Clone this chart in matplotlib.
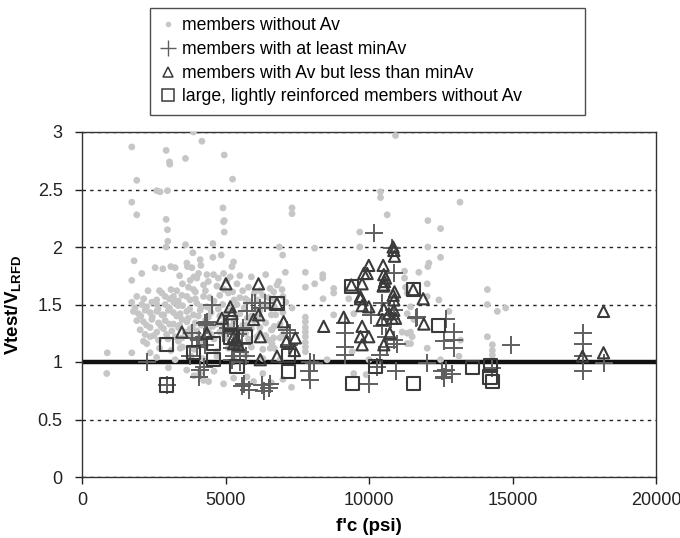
import matplotlib
matplotlib.use('Agg')
import matplotlib.pyplot as plt
from matplotlib.lines import Line2D

plt.rcParams['font.family'] = ['Liberation Sans', 'DejaVu Sans']
plt.rcParams['mathtext.fontset'] = 'custom'
plt.rcParams['mathtext.rm'] = 'Liberation Sans'
plt.rcParams['mathtext.bf'] = 'Liberation Sans:bold'

# members without Av (grey dots)
no_av_fc = [1734, 3885, 4177, 2932, 3047, 3060, 3605, 4956, 1908, 5246, 2606, 2722, 2978, 1734, 1908,
            2932, 2978, 2990, 2932, 4911, 4932, 4956, 4956, 3605, 3863, 4561, 4561, 4851, 1815, 2083,
            1734, 2548, 2816, 3096, 3245, 3653, 3676, 3828, 4118, 4142, 4060, 4583, 4932, 5224, 5281,
            5165, 5050,
            10924, 10400, 10400, 7318, 7318, 10633, 12051, 12494, 9678, 9678, 6875, 6991, 8107, 12051,
            12494, 12051, 7085, 7783, 8388, 8388, 8107, 7783, 8770, 8770, 6851, 6794, 6677, 6968, 11238,
            11238, 11737, 12028, 11273, 11332, 9294, 8400, 7318, 12028, 12435, 13171, 12086, 14124, 14124,
            14473, 14763, 12784, 14124, 14299, 14299, 14299, 13192, 13135, 8770, 9469, 11447, 11332, 11563,
            11447, 11505, 11332, 11155, 9411, 8539, 9469, 7783, 7783, 7783, 7783, 7783, 7783, 7783, 7783,
            10000, 9900, 11332, 11447, 12028, 12494, 6620, 6677, 6620, 6561,
            3770, 4003, 4235, 3711, 3885, 4400, 4700, 5400, 5600, 5800, 6000, 3500, 3300, 2300,
            2781, 2897, 3187, 3480, 3653, 1908, 4235, 4800, 5100, 5500, 6300, 6700, 7000,
            1734, 2083, 2432, 2606, 3770, 4003, 4351, 2900, 3200, 3500, 4600, 4900, 5400, 5800, 6300,
            6700, 7100,
            1792, 1966, 2199, 2374, 2606, 2781, 3013, 3187, 3420, 3653, 3885, 4118, 4500, 4800, 5100,
            5500, 5900, 6200, 6600, 7000,
            1908, 2141, 2432, 2665, 2897, 3187, 3480, 3653, 3944, 4300, 4700, 5000, 5300, 5700, 6000,
            6400, 6900,
            2025, 2374, 2606, 2839, 3130, 3362, 3595, 3770, 4003, 4400, 4800, 5100, 5500, 5900, 6200,
            6600,
            2141, 2374, 2665, 3362, 3478, 3000, 3800, 4200, 4600, 5000, 5400, 5800, 6100, 6500, 6900,
            2257, 2700, 3100, 3500, 3900, 4300, 4700, 5100, 5500, 5900, 6300, 6700,
            880, 1734, 2374, 3420, 3245, 3013, 2600, 3800, 4200, 4700, 5300, 5700, 6300, 6900,
            862, 3650, 3900, 4100, 4235, 4409, 4600, 4932, 5282, 5748, 5979, 6300, 6600, 7000, 7300,
            1850, 2250, 2650, 3050, 3350, 3750, 4150, 4450, 4750, 5250, 5650, 6050, 6500,
            2050, 2450, 2850, 3300, 3700, 4050, 4400, 4950, 5350, 5750, 6150, 6750,
            2250, 2750, 3050, 3400, 3850, 4150, 4550, 4900, 5200, 5600, 6200, 6700,
            2200, 2500, 2950, 3250, 3700, 4100, 4500, 4950, 5300, 5700, 6400, 7000,
            2150, 2600, 3050, 3350, 3950, 4450, 5300, 5700, 6100, 6500,
            2700, 3100, 3950, 4300, 4950, 5250, 6200, 6550,
            3400, 3900, 4350, 4750, 5500, 5900, 6400]
no_av_v = [2.87, 3.00, 2.92, 2.84, 2.74, 2.72, 2.77, 2.80, 2.58, 2.59, 2.49, 2.48, 2.49, 2.39, 2.28,
           2.24, 2.15, 2.05, 2.00, 2.34, 2.22, 2.23, 2.13, 2.02, 1.95, 2.03, 1.91, 1.93, 1.88, 1.77,
           1.71, 1.82, 1.81, 1.83, 1.82, 1.86, 1.83, 1.82, 1.89, 1.84, 1.77, 1.76, 1.77, 1.83, 1.87,
           1.74, 1.71,
           2.97, 2.48, 2.43, 2.34, 2.29, 2.28, 2.23, 2.16, 2.13, 2.00, 2.00, 1.93, 1.99, 2.00,
           1.91, 1.83, 1.78, 1.78, 1.76, 1.73, 1.68, 1.65, 1.64, 1.60, 1.70, 1.67, 1.61, 1.63, 1.79,
           1.73, 1.78, 1.68, 1.65, 1.60, 1.55, 1.55, 1.47, 1.57, 1.54, 2.39, 1.86, 1.63, 1.50,
           1.44, 1.47, 1.44, 1.22, 1.15, 1.10, 1.06, 1.19, 1.05, 1.41, 1.42, 1.48, 1.42, 1.37,
           1.26, 1.22, 1.16, 1.26, 1.09, 1.02, 0.90, 1.39, 1.35, 1.30, 1.26, 1.22, 1.17, 1.13, 1.09,
           1.02, 0.89, 1.25, 1.16, 1.12, 1.02, 1.28, 1.21, 1.16, 1.12,
           1.71, 1.73, 1.67, 1.65, 1.63, 1.70, 1.66, 1.68, 1.62, 1.65, 1.60, 1.68, 1.62, 1.62,
           1.60, 1.57, 1.57, 1.58, 1.57, 1.57, 1.57, 1.58, 1.60, 1.56, 1.58, 1.55, 1.57,
           1.52, 1.50, 1.52, 1.50, 1.54, 1.51, 1.48, 1.50, 1.52, 1.49, 1.53, 1.50, 1.50, 1.53, 1.50,
           1.48, 1.52,
           1.44, 1.42, 1.45, 1.43, 1.44, 1.41, 1.45, 1.43, 1.42, 1.44, 1.41, 1.45, 1.43, 1.40, 1.44,
           1.42, 1.40, 1.45, 1.41, 1.43,
           1.36, 1.35, 1.37, 1.34, 1.36, 1.33, 1.37, 1.35, 1.34, 1.36, 1.33, 1.37, 1.35, 1.32, 1.36,
           1.34, 1.33,
           1.28, 1.30, 1.26, 1.29, 1.27, 1.30, 1.26, 1.29, 1.27, 1.28, 1.26, 1.30, 1.27, 1.29, 1.25,
           1.28,
           1.18, 1.22, 1.19, 1.18, 1.21, 1.20, 1.22, 1.18, 1.20, 1.21, 1.17, 1.20, 1.22, 1.19, 1.21,
           1.16, 1.12, 1.10, 1.13, 1.11, 1.14, 1.09, 1.12, 1.10, 1.13, 1.11, 1.12,
           1.08, 1.08, 1.08, 1.12, 1.02, 0.95, 1.04, 1.05, 1.03, 1.05, 1.04, 1.06, 1.03, 1.02,
           0.90, 0.93, 0.88, 0.90, 0.84, 0.83, 0.92, 0.81, 0.86, 0.87, 0.83, 0.90, 0.82, 0.85, 0.78,
           1.47, 1.48, 1.46, 1.47, 1.49, 1.46, 1.48, 1.47, 1.46, 1.48, 1.47, 1.46, 1.48,
           1.40, 1.39, 1.41, 1.40, 1.38, 1.40, 1.39, 1.41, 1.40, 1.38, 1.39, 1.41,
           1.32, 1.31, 1.33, 1.32, 1.30, 1.32, 1.31, 1.33, 1.31, 1.32, 1.30, 1.31,
           1.24, 1.23, 1.24, 1.22, 1.25, 1.23, 1.24, 1.24, 1.23, 1.25, 1.23, 1.24,
           1.55, 1.54, 1.55, 1.53, 1.55, 1.56, 1.54, 1.55, 1.54, 1.56,
           1.62, 1.63, 1.61, 1.62, 1.63, 1.61, 1.62, 1.64,
           1.75, 1.74, 1.76, 1.73, 1.75, 1.74, 1.76]

# members with at least minAv (crosses)
min_av_fc = [2270, 2955, 3828, 4351, 4060, 4118, 4060, 5572, 5805, 4526, 5923, 6038, 6387, 4293, 4293,
             4293, 5224, 5282, 5224, 5573, 5514, 7143, 7200, 5631, 6271, 6561, 4235, 7899, 7957, 5748,
             6212, 7259, 7957, 6503, 6329, 10168, 10807, 10865, 10458, 10086, 9179, 9179, 9179, 9179,
             10458, 10575, 10633, 10865, 10982, 11679, 10400, 8072, 12005, 10924, 9992, 10284, 12551,
             12610, 12610, 11621, 12668, 12958, 12958, 12958, 14937, 17440, 17440, 17440, 17440, 18172,
             12668, 12900, 12610, 14299, 5300, 5450, 5600, 5500, 5700, 4351, 4235, 3828, 4003, 3770,
             10750, 10865, 4900, 5100]
min_av_v = [1.00, 0.80, 1.25, 1.32, 1.19, 0.93, 0.87, 0.79, 0.76, 1.50, 1.51, 1.51, 1.51, 1.34, 1.22,
            1.15, 1.12, 1.05, 1.02, 1.16, 1.09, 1.28, 1.15, 0.81, 0.80, 0.81, 0.96, 0.92, 1.00, 1.44,
            1.47, 1.25, 0.84, 0.77, 0.75, 2.12, 1.99, 1.77, 1.51, 1.41, 1.34, 1.25, 1.13, 1.06,
            1.31, 1.22, 1.13, 1.19, 1.16, 1.39, 1.06, 0.99, 0.99, 0.92, 0.81, 0.96, 0.92,
            0.86, 1.18, 1.38, 1.37, 1.26, 1.19, 1.12, 1.15, 1.25, 1.16, 1.05, 0.92, 0.99,
            0.93, 0.90, 0.87, 0.95, 1.28, 1.24, 1.30, 1.00, 1.05, 1.35, 1.22, 1.21, 1.13, 1.05,
            1.37, 1.45, 1.25, 1.30]

# members with Av but less than minAv (triangles)
low_av_fc = [3480, 4351, 4874, 5224, 5015, 6150, 6794, 5165, 5979, 6154, 7025, 5282, 5398, 5282, 5456,
             6212, 7120, 7434, 7399, 6794, 6212, 9992, 9935, 9818, 10493, 10841, 10865, 10888, 10516,
             10575, 10516, 9760, 9702, 9388, 11540, 10888, 11888, 9992, 9760, 9702, 9119, 8421, 10516,
             10691, 10865, 10458, 10807, 10924, 11911, 9760, 9702, 9992, 9760, 10726, 10516, 10865,
             10841, 10540, 10493, 18172, 17440, 18172]
low_av_v = [1.26, 1.25, 1.38, 1.42, 1.68, 1.68, 1.51, 1.48, 1.37, 1.41, 1.35, 1.22, 1.19, 1.16, 1.15,
            1.22, 1.18, 1.21, 1.10, 1.05, 1.02, 1.84, 1.77, 1.77, 1.84, 2.00, 1.97, 1.92, 1.76,
            1.73, 1.67, 1.68, 1.55, 1.67, 1.63, 1.61, 1.55, 1.48, 1.49, 1.57, 1.39, 1.31, 1.46,
            1.42, 1.45, 1.37, 1.38, 1.38, 1.33, 1.31, 1.22, 1.22, 1.15, 1.25, 1.15, 1.54,
            1.58, 1.70, 1.66, 1.44, 1.05, 1.08]

# large, lightly reinforced members without Av (squares)
large_fc = [2955, 2955, 3885, 4583, 4583, 5165, 5398, 5165, 5689, 6794, 7200, 7200, 9388, 11540, 9411,
            11540, 12435, 10226, 13599, 14240, 14217, 14299]
large_v = [1.15, 0.80, 1.08, 1.16, 1.02, 1.34, 0.96, 1.21, 1.22, 1.51, 1.06, 0.92, 1.66, 1.63, 0.81,
           0.81, 1.32, 0.96, 0.95, 0.97, 0.87, 0.83]

x_ticks = [0, 5000, 10000, 15000, 20000]
y_ticks = [0, 0.5, 1, 1.5, 2, 2.5, 3]
y_tick_labels = ['0', '0.5', '1', '1.5', '2', '2.5', '3']

grey = '#c6c6c6'
dark = '#5f5f5f'
edge = '#3a3a3a'

fig = plt.figure(figsize=(6.8, 5.38), dpi=100)
ax = fig.add_axes([82 / 680, 1 - 477 / 538, 574 / 680, 345 / 538])

ax.scatter(no_av_fc, no_av_v, s=24, color=grey, edgecolors='none', zorder=3)
ax.plot([0, 20000], [1, 1], color='#111111', lw=3.2, zorder=2.5, solid_capstyle='butt')
ax.scatter(min_av_fc, min_av_v, s=175, marker='+', color=dark, linewidths=1.4, zorder=4)
ax.scatter(low_av_fc, low_av_v, s=65, marker='^', facecolors='none', edgecolors=edge,
           linewidths=1.5, zorder=5)
ax.scatter(large_fc, large_v, s=90, marker='s', facecolors='none', edgecolors=edge,
           linewidths=1.5, zorder=6)

ax.set_xlim(0, 20000)
ax.set_ylim(0, 3)
ax.set_xticks(x_ticks)
ax.set_xticklabels([str(t) for t in x_ticks])
ax.set_yticks(y_ticks)
ax.set_yticklabels(y_tick_labels)
ax.yaxis.grid(True, color='#222222', lw=1.0, linestyle=(0, (2.5, 3)))
ax.set_axisbelow(True)
ax.tick_params(direction='out', length=5, width=1, labelsize=13, colors='#222222')
ax.tick_params(axis='x', pad=6)
ax.tick_params(axis='y', pad=9)
for sp in ax.spines.values():
    sp.set_color('#333333')
    sp.set_linewidth(1.0)

ax.set_xlabel("f'c (psi)", fontsize=13.5, fontweight='bold', labelpad=6)
ax.set_ylabel(r'Vtest/V$_{\mathbf{LRFD}}$', fontsize=13.5, fontweight='bold', labelpad=10)

handles = [
    Line2D([], [], ls='none', marker='o', ms=4, color=grey, mec='none'),
    Line2D([], [], ls='none', marker='+', ms=11, color=dark, mew=1.0),
    Line2D([], [], ls='none', marker='^', ms=7, mfc='none', mec=edge, mew=1.1),
    Line2D([], [], ls='none', marker='s', ms=9, mfc='none', mec=edge, mew=1.1),
]
labels = ['members without Av', 'members with at least minAv',
          'members with Av but less than minAv',
          'large, lightly reinforced members without Av']
leg = fig.legend(handles, labels, loc='upper left',
                 bbox_to_anchor=(150 / 680, 1 - 13 / 538, 435 / 680, 0.01), mode='expand',
                 fontsize=12.7, frameon=True, fancybox=False, borderpad=0.55,
                 labelspacing=0.38, handlelength=0.9, handletextpad=0.35, borderaxespad=0)
leg.get_frame().set_edgecolor('#222222')
leg.get_frame().set_linewidth(1.0)

fig.savefig('out.png', dpi=100)
